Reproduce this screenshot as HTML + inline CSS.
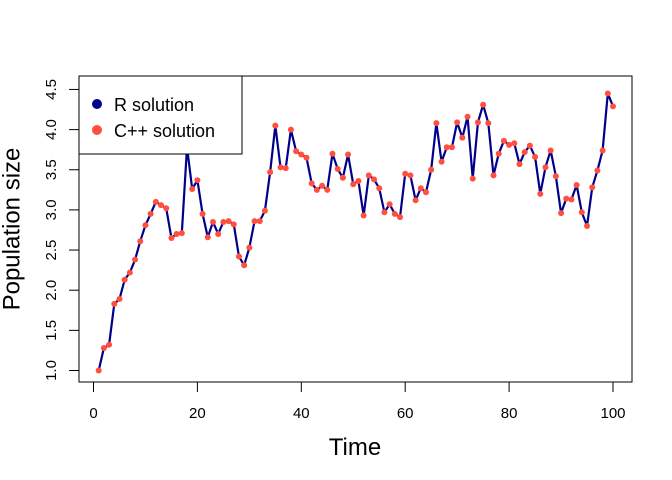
<!DOCTYPE html>
<html><head><meta charset="utf-8"><style>
body{margin:0;background:#fff}
svg{display:block;font-family:"Liberation Sans",Arial,sans-serif}
</style></head><body>
<svg id="chart" width="672" height="480" viewBox="0 0 672 480" xmlns="http://www.w3.org/2000/svg">
<rect x="79" y="76" width="553" height="306" fill="none" stroke="#000" stroke-width="1"/>
<g id="axes"></g>
<g id="series"></g>
<g>
<rect x="79" y="76" width="163" height="78" fill="#fff" stroke="#000" stroke-width="1"/>
<g><circle cx="97" cy="104" r="5" fill="#00008b"/><text x="114" y="111" font-size="18">R solution</text></g>
<g><circle cx="97" cy="130" r="5" fill="#ff4f3f"/><text x="114" y="137" font-size="18">C++ solution</text></g>
</g>
<text x="355" y="455" font-size="24" text-anchor="middle">Time</text>
<text transform="translate(13,229) rotate(-90)" font-size="24" text-anchor="middle" dominant-baseline="middle">Population size</text>
</svg>
<script>
const xTicks = [0, 20, 40, 60, 80, 100];
const yTicks = [1.0, 1.5, 2.0, 2.5, 3.0, 3.5, 4.0, 4.5];
const yTickLabels = ["1.0","1.5","2.0","2.5","3.0","3.5","4.0","4.5"];
const rValues = [1.00,1.28,1.32,1.83,1.89,2.13,2.22,2.38,2.61,2.81,2.95,3.10,3.06,3.02,2.65,2.70,2.71,3.78,3.26,3.37,
2.95,2.66,2.85,2.70,2.85,2.86,2.82,2.42,2.31,2.53,2.86,2.86,2.99,3.47,4.05,3.53,3.52,4.00,3.73,3.69,
3.65,3.33,3.25,3.30,3.25,3.70,3.51,3.40,3.69,3.32,3.36,2.93,3.43,3.38,3.27,2.97,3.07,2.95,2.91,3.45,
3.43,3.12,3.27,3.22,3.50,4.08,3.60,3.78,3.78,4.09,3.90,4.16,3.39,4.09,4.31,4.08,3.43,3.70,3.86,3.81,
3.83,3.57,3.72,3.80,3.66,3.20,3.53,3.74,3.42,2.96,3.14,3.13,3.31,2.97,2.80,3.28,3.49,3.74,4.45,4.29];
const cppValues = rValues.slice();
const sx = v => 93.5 + v * 5.195;
const sy = v => 370.5 - (v - 1) * 80.3;
const NS = "http://www.w3.org/2000/svg";
const axes = document.getElementById('axes');
const series = document.getElementById('series');
function mk(tag, attrs, parent){const e=document.createElementNS(NS,tag);for(const k in attrs)e.setAttribute(k,attrs[k]);parent.appendChild(e);return e;}
const xl = mk('line',{x1:sx(0),x2:sx(100),y1:382,y2:382,stroke:'#000'},axes);


xTicks.forEach(t=>{
  const l = mk('line',{x1:sx(t),x2:sx(t),y1:382,y2:392,stroke:'#000'},axes);
  
  
  const tx = mk('text',{x:sx(t),y:418,'font-size':15,'text-anchor':'middle'},axes);
  tx.textContent = t;
  
  
});
const yl = mk('line',{x1:79,x2:79,y1:sy(1),y2:sy(4.5),stroke:'#000'},axes);


yTicks.forEach((t,i)=>{
  const l = mk('line',{x1:69,x2:79,y1:sy(t),y2:sy(t),stroke:'#000'},axes);
  
  
  const tx = mk('text',{transform:`translate(56,${sy(t)}) rotate(-90)`,'font-size':15,'text-anchor':'middle'},axes);
  tx.textContent = yTickLabels[i];
  
  
});
const pts = rValues.map((v,i)=>sx(i+1).toFixed(2)+','+sy(v).toFixed(2)).join(' ');
const line = mk('polyline',{points:pts,fill:'none',stroke:'#00008b','stroke-width':2.2,'stroke-linejoin':'round'},series);


cppValues.forEach((v,i)=>{
  const c = mk('circle',{cx:sx(i+1),cy:sy(v),r:3,fill:'#ff4f3f'},series);
  
  
});
</script>
</body></html>
